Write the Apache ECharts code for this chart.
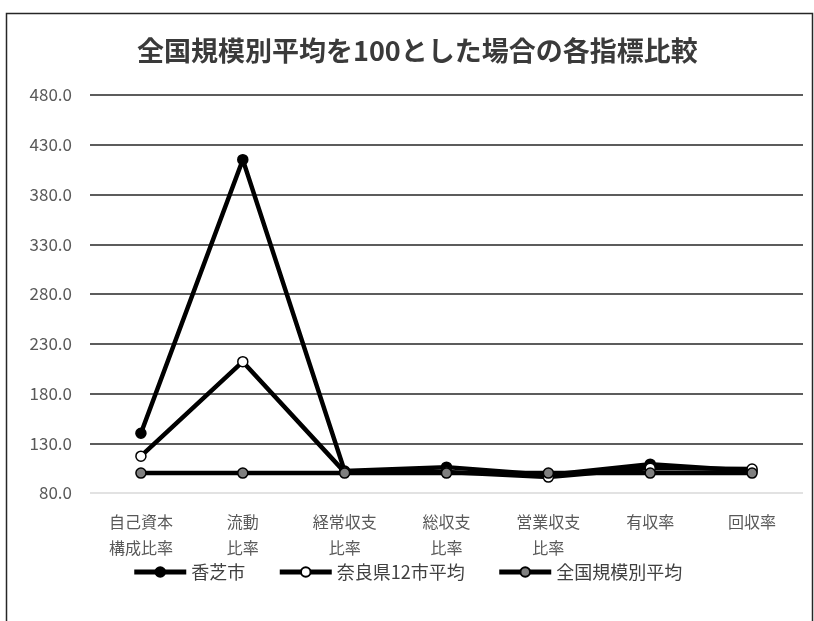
<!DOCTYPE html>
<html>
<head>
<meta charset="utf-8">
<script src="https://cdn.jsdelivr.net/npm/echarts@6/dist/echarts.min.js"></script>
<style>
html,body{margin:0;padding:0;background:#fff;}
#chart{width:814px;height:621px;}
</style>
</head>
<body>
<div id="chart"></div>
<script>
// Indicator categories (x axis)
const categories = ['自己資本\n構成比率', '流動\n比率', '経常収支\n比率', '総収支\n比率', '営業収支\n比率', '有収率', '回収率'];
// Series values, national same-size average = 100
const kashiba = [140, 415, 102, 106, 98, 109, 102];
const nara12 = [117, 212, 101, 101, 96, 105, 104];
const national = [100, 100, 100, 100, 100, 100, 100];
// Value axis range
const yMin = 80, yMax = 480, yStep = 50;

const font = '"Noto Sans CJK JP", "Noto Sans", sans-serif';
const chart = echarts.init(document.getElementById('chart'), null, {renderer: 'canvas'});

function lineSeries(name, data, symbolColor, z) {
  return {
    name: name,
    type: 'line',
    data: data,
    z: z,
    symbol: 'circle',
    symbolSize: 10,
    lineStyle: {color: '#000', width: 4.5},
    itemStyle: {color: symbolColor, borderColor: '#000', borderWidth: 1.5},
    emphasis: {disabled: true},
    animation: false
  };
}

chart.setOption({
  backgroundColor: '#fff',
  animation: false,
  title: {
    text: '全国規模別平均を100とした場合の各指標比較',
    left: 132,
    top: 32,
    textStyle: {fontFamily: font, fontSize: 27, fontWeight: 'bold', color: '#3a3a3a'}
  },
  graphic: [{
    type: 'rect',
    shape: {x: 6.5, y: 13.5, width: 806, height: 620},
    style: {fill: 'none', stroke: '#262626', lineWidth: 1.5},
    silent: true
  }],
  legend: {
    bottom: 35,
    left: 'center',
    itemGap: 32,
    itemWidth: 52,
    itemHeight: 12,
    lineStyle: {width: 5},
    textStyle: {fontFamily: font, fontSize: 18, color: '#404040'},
    data: ['香芝市', '奈良県12市平均', '全国規模別平均']
  },
  grid: {left: 90, right: 11, top: 95, bottom: 128, containLabel: false},
  xAxis: {
    type: 'category',
    data: categories,
    boundaryGap: true,
    axisLine: {show: false},
    axisTick: {show: false},
    axisLabel: {fontFamily: font, fontSize: 16, color: '#595959', margin: 16, lineHeight: 26, interval: 0}
  },
  yAxis: {
    type: 'value',
    min: yMin,
    max: yMax,
    interval: yStep,
    axisLine: {show: false},
    axisTick: {show: false},
    axisLabel: {fontFamily: font, fontSize: 17, color: '#595959', margin: 18, formatter: v => v.toFixed(1)},
    splitLine: {
      lineStyle: {
        width: 1.5,
        color: ['#d9d9d9', '#262626', '#262626', '#262626', '#262626', '#262626', '#262626', '#262626', '#262626']
      }
    }
  },
  series: [
    lineSeries('香芝市', kashiba, '#000', 2),
    lineSeries('奈良県12市平均', nara12, '#fff', 3),
    lineSeries('全国規模別平均', national, '#7f7f7f', 4)
  ]
});
</script>
</body>
</html>
